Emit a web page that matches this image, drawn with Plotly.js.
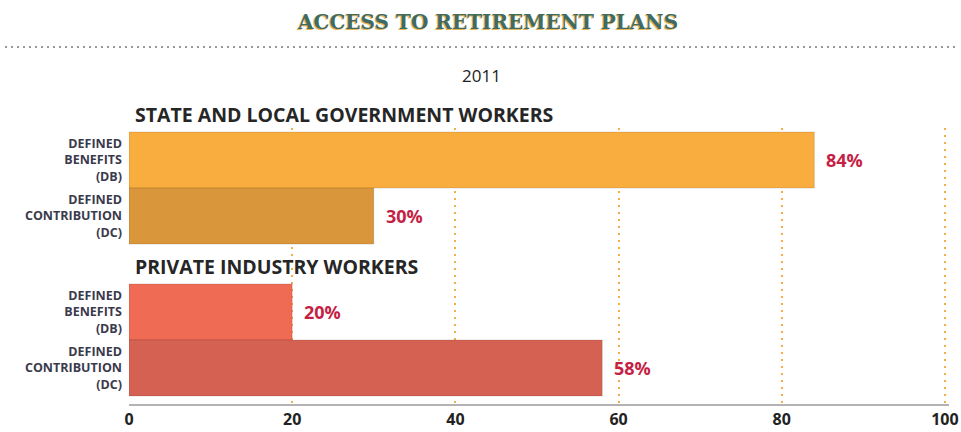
<!DOCTYPE html>
<html>
<head>
<meta charset="utf-8">
<script src="https://cdn.plot.ly/plotly-3.0.1.min.js"></script>
<style>html,body{margin:0;padding:0;background:#fff;}#chart{width:961px;height:432px;}</style>
</head>
<body>
<div id="chart"></div>
<script>
// ---- data ----
const groups = ["STATE AND LOCAL GOVERNMENT WORKERS", "PRIVATE INDUSTRY WORKERS"];
const planLabels = ["DEFINED<br>BENEFITS<br>(DB)", "DEFINED<br>CONTRIBUTION<br>(DC)"];
const stateValues = [84, 30];
const privateValues = [20, 58];
const barColors = [["#F9AD3F", "#D9963B"], ["#F06B53", "#D56152"]];
const xTickVals = [0, 20, 40, 60, 80, 100];
const year = "2011";
const chartTitle = "ACCESS TO RETIREMENT PLANS";

// ---- layout helpers ----
const W = 961, H = 432;
const mL = 129, mR = 12, mT = 128, mB = 28;
const xMax = 100.5;
const groupGap = 0.71;
const groupValues = [stateValues, privateValues];

const ys = [], xs = [], cols = [], tickVals = [], tickText = [];
groupValues.forEach((vals, g) => {
  vals.forEach((v, i) => {
    const p = g * (2 + groupGap) + i;
    ys.push(p); xs.push(v); cols.push(barColors[g][i]);
    tickVals.push(p); tickText.push(planLabels[i]);
  });
});
const yTop = -0.5 - 4 / 56;
const yBot = ys[ys.length - 1] + 0.5 + 8 / 56;
const plotH = H - mT - mB, plotW = W - mL - mR;
const pxToPaperY = py => (H - mB - py) / plotH;
const pxToPaperX = px => (px - mL) / plotW;

const annotations = [];
// value labels
ys.forEach((y, k) => {
  annotations.push({x: xs[k], y: y, xref: 'x', yref: 'y', text: xs[k] + '%', showarrow: false,
    xanchor: 'left', xshift: 10, font: {family: 'Open Sans', size: 18, color: '#C61F45', weight: 'bold'}});
});
// group headers
groups.forEach((g, gi) => {
  annotations.push({x: 0, y: gi * (2 + groupGap) - 0.5, xref: 'x', yref: 'y', text: '<b>' + g + '</b>',
    showarrow: false, xanchor: 'left', yanchor: 'bottom', xshift: 4, yshift: 2,
    font: {family: 'Open Sans', size: 19.5, color: '#262626'}});
});
// title with shadow, year
const topTexts = [
  {cx: 487, cy: 22, text: '<b>' + chartTitle + '</b>', font: {family: 'DejaVu Serif', size: 20, color: '#E9B454'}, xs: -1, ys: -1},
  {cx: 487, cy: 22, text: '<b>' + chartTitle + '</b>', font: {family: 'DejaVu Serif', size: 20, color: '#3F6B60'}, xs: 0, ys: 0},
  {cx: 481, cy: 75, text: year, font: {family: 'Open Sans', size: 17, color: '#222'}, xs: 0, ys: 0}
];
topTexts.forEach(t => annotations.push({x: pxToPaperX(t.cx), y: pxToPaperY(t.cy), xref: 'paper', yref: 'paper',
  text: t.text, showarrow: false, xanchor: 'center', yanchor: 'middle', xshift: t.xs, yshift: t.ys, font: t.font}));

const data = [{
  type: 'bar', orientation: 'h', x: xs, y: ys, width: 1,
  marker: {color: cols, line: {color: 'rgba(0,0,0,0.12)', width: 1}},
  hoverinfo: 'none'
}];

const layout = {
  width: W, height: H,
  margin: {l: mL, r: mR, t: mT, b: mB, pad: 0},
  paper_bgcolor: '#fff', plot_bgcolor: '#fff',
  showlegend: false,
  bargap: 0,
  xaxis: {range: [0, xMax], tickvals: xTickVals, showgrid: true, gridcolor: '#F5AE45', griddash: '2px,5px', gridwidth: 2,
    zeroline: false, showline: true, linecolor: '#B3B3B3', linewidth: 2, ticks: '', ticklabelstandoff: 0,
    tickfont: {family: 'Open Sans', size: 16, color: '#222', weight: 'bold'}, fixedrange: true},
  yaxis: {range: [yBot, yTop], tickvals: tickVals, ticktext: tickText, showgrid: false, zeroline: false, showline: false,
    ticks: '', ticklabelstandoff: 6, tickfont: {family: 'Open Sans', size: 12.5, color: '#3A3A4C', weight: 'bold'}, fixedrange: true},
  annotations: annotations,
  shapes: [{type: 'line', xref: 'paper', yref: 'paper', x0: pxToPaperX(5), x1: pxToPaperX(955),
    y0: pxToPaperY(47), y1: pxToPaperY(47), line: {color: '#9A9A9A', width: 2, dash: '2px,4px'}}]
};

Plotly.newPlot('chart', data, layout, {displayModeBar: false, staticPlot: true});
</script>
</body>
</html>
